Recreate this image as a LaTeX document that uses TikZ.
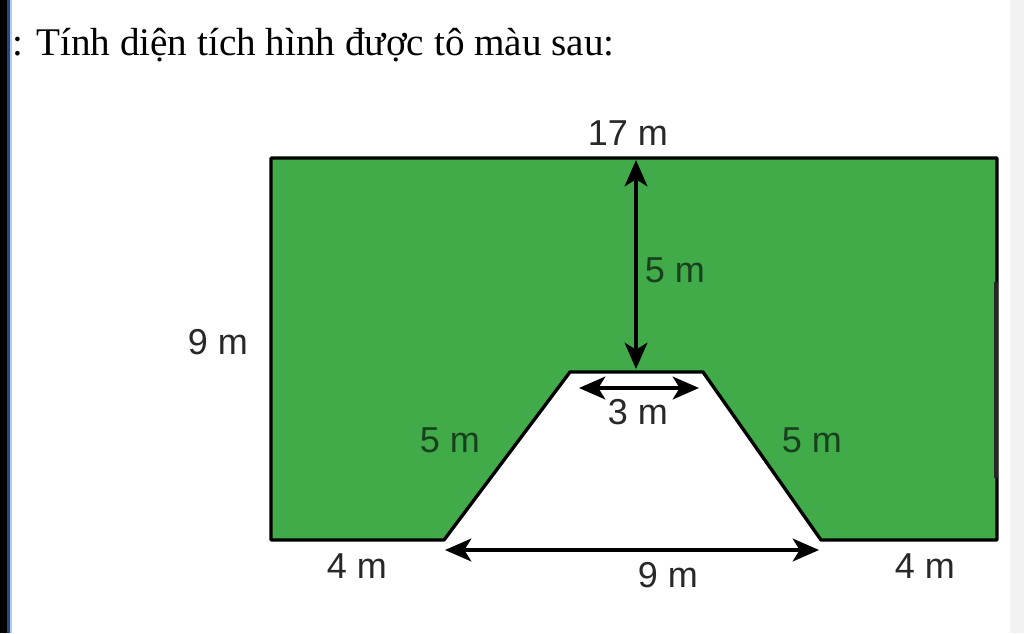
\documentclass[tikz,border=0pt]{standalone}
\usepackage{fontspec}
\setmainfont{Liberation Serif}
\newfontfamily\lblfont{Liberation Sans}
\usetikzlibrary{arrows.meta}
\definecolor{fieldgreen}{RGB}{65,171,74}
\definecolor{lbltext}{RGB}{40,40,40}
\definecolor{lblongreen}{RGB}{24,64,30}
\definecolor{edgeblue}{RGB}{40,70,130}
\definecolor{edgelight}{RGB}{170,205,240}
\tikzstyle{every path}=[line cap=round,line join=round]
\tikzstyle{dimlabel}=[font=\lblfont\fontsize{20.5}{20.5}\selectfont,text=lbltext,inner sep=0pt]
\tikzstyle{dimarrow}=[line width=1.8pt,line cap=butt,{Stealth[length=15pt,width=13pt,inset=4pt]}-{Stealth[length=15pt,width=13pt,inset=4pt]}]

\begin{document}
\begin{tikzpicture}[x=0.02cm,y=-0.02cm]
    \useasboundingbox (0,0) rectangle (1024,633);
    \fill[white] (0,0) rectangle (1024,633);
    % page edges
    \fill[black] (0,0) rectangle (7,633);
    \fill[edgeblue] (7,0) rectangle (10,633);
    \fill[edgelight] (10,0) rectangle (12,633);
    \fill[black!5] (1010,0) rectangle (1024,633);
    %
    \node[anchor=base west,inner sep=0pt,font=\fontsize{22.3}{22.3}\selectfont] (title) at (12,55)
        {: Tính diện tích hình được tô màu sau:};
    % field corners
    \coordinate (tl) at (271,158);
    \coordinate (tr) at (997,158);
    \coordinate (br) at (997,540);
    \coordinate (bl) at (271,540);
    % cut-out
    \coordinate (cbl) at (444,540);
    \coordinate (ctl) at (570,372);
    \coordinate (ctr) at (703,372);
    \coordinate (cbr) at (821,540);
    \draw[fill=fieldgreen,line width=1.9pt]
        (bl)--(tl)--(tr)--(br)--(cbr)--(ctr)--(ctl)--(cbl)--cycle;
    \draw[line width=2.2pt,black!85,line cap=butt] (996,282)--(996,478);
    % dimension arrows
    \coordinate (htop) at (636,160);
    \coordinate (hbot) at (636,369);
    \coordinate (aleft) at (579,388);
    \coordinate (aright) at (699,388);
    \coordinate (bleft) at (445,550);
    \coordinate (bright) at (819,550);
    \draw[dimarrow] (htop)--(hbot);
    \draw[dimarrow] (aleft)--(aright);
    \draw[dimarrow] (bleft)--(bright);
    % labels
    \node[dimlabel] (top) at (628,133) {17 m};
    \node[dimlabel,text=lblongreen] (height) at (675,270) {5 m};
    \node[dimlabel] (side) at (218,342) {9 m};
    \node[dimlabel] (small) at (638,412) {3 m};
    \node[dimlabel,text=lblongreen] (slantl) at (450,440) {5 m};
    \node[dimlabel,text=lblongreen] (slantr) at (812,440) {5 m};
    \node[dimlabel] (footl) at (357,566) {4 m};
    \node[dimlabel] (base) at (668,575) {9 m};
    \node[dimlabel] (footr) at (925,566) {4 m};
\end{tikzpicture}
\end{document}
